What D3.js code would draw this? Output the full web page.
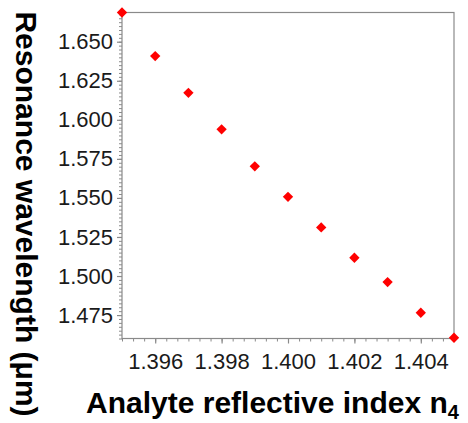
<!DOCTYPE html>
<html>
<head>
<meta charset="utf-8">
<script src="https://cdn.jsdelivr.net/npm/d3@7"></script>
<style>
  html, body { margin: 0; padding: 0; background: #fff; }
  svg { display: block; }
</style>
</head>
<body>
<svg id="chart" width="468" height="423"></svg>
<script>
// Analyte refractive index vs. resonance wavelength
const indexValues = [1.395, 1.396, 1.397, 1.398, 1.399, 1.400, 1.401, 1.402, 1.403, 1.404, 1.405];
const wavelengths = [1.6687, 1.6408, 1.6173, 1.5939, 1.5702, 1.5507, 1.5311, 1.5117, 1.4961, 1.4765, 1.4605];
const xTickValues = [1.396, 1.398, 1.400, 1.402, 1.404];
const yTickValues = [1.475, 1.500, 1.525, 1.550, 1.575, 1.600, 1.625, 1.650];

const W = 468, H = 423;
const margin = { left: 122, right: 14, top: 12.5, bottom: 84.5 };
const svg = d3.select("#chart");

const x = d3.scaleLinear().domain([1.395, 1.405]).range([margin.left, W - margin.right]);
const y = d3.scaleLinear().domain([1.4600, 1.6687]).range([H - margin.bottom, margin.top]);

const axisColor = "#8a8a8a";
const labelColor = "#1a1a1a";

// frame
svg.append("rect")
  .attr("x", x.range()[0]).attr("y", y.range()[1])
  .attr("width", x.range()[1] - x.range()[0])
  .attr("height", y.range()[0] - y.range()[1])
  .attr("fill", "none").attr("stroke", axisColor).attr("stroke-width", 1.2);

// minor ticks
const xMinor = d3.range(0, 31).map(i => 1.395 + i * (0.002 / 6)).filter(v => v <= 1.4051);
const yMinor = d3.range(0, 90).map(i => 1.4500 + i * 0.0025).filter(v => v >= 1.4600 && v <= 1.6687);

svg.append("g")
  .attr("transform", `translate(0,${y.range()[0]})`)
  .call(d3.axisBottom(x).tickValues(xMinor).tickSize(3).tickFormat(""))
  .call(g => g.select(".domain").remove())
  .call(g => g.selectAll("line").attr("stroke", axisColor));

svg.append("g")
  .attr("transform", `translate(${x.range()[0]},0)`)
  .call(d3.axisLeft(y).tickValues(yMinor).tickSize(3).tickFormat(""))
  .call(g => g.select(".domain").remove())
  .call(g => g.selectAll("line").attr("stroke", axisColor));

// major ticks with labels
const xAxis = svg.append("g")
  .attr("transform", `translate(0,${y.range()[0]})`)
  .call(d3.axisBottom(x).tickValues(xTickValues).tickSize(5).tickPadding(10).tickFormat(d3.format(".3f")));
xAxis.select(".domain").remove();
xAxis.selectAll("line").attr("stroke", axisColor).attr("stroke-width", 1.2);
xAxis.selectAll("text")
  .attr("fill", labelColor)
  .style("font-family", "Liberation Sans, Arial, sans-serif")
  .style("font-size", "22px");

const yAxis = svg.append("g")
  .attr("transform", `translate(${x.range()[0]},0)`)
  .call(d3.axisLeft(y).tickValues(yTickValues).tickSize(5).tickPadding(4).tickFormat(d3.format(".3f")));
yAxis.select(".domain").remove();
yAxis.selectAll("line").attr("stroke", axisColor).attr("stroke-width", 1.2);
yAxis.selectAll("text")
  .attr("fill", labelColor)
  .style("font-family", "Liberation Sans, Arial, sans-serif")
  .style("font-size", "22px");

// data markers
const diamond = d3.symbol().type(d3.symbolDiamond2).size(68);
svg.append("g")
  .selectAll("path")
  .data(indexValues.map((v, i) => [v, wavelengths[i]]))
  .join("path")
  .attr("transform", d => `translate(${x(d[0])},${y(d[1])})`)
  .attr("d", diamond)
  .attr("fill", "#ff0000");

// axis titles
const xTitle = svg.append("text")
  .attr("x", 86).attr("y", 413)
  .style("font-family", "Liberation Sans, Arial, sans-serif")
  .style("font-size", "30px")
  .style("font-weight", "bold")
  .attr("fill", "#000");
xTitle.append("tspan").text("Analyte reflective index n");
xTitle.append("tspan").attr("dy", 6).style("font-size", "20px").text("4");

svg.append("text")
  .attr("transform", "translate(16,214) rotate(90)")
  .attr("text-anchor", "middle")
  .style("font-family", "Liberation Sans, Arial, sans-serif")
  .style("font-size", "30px")
  .style("font-weight", "bold")
  .attr("fill", "#000")
  .text("Resonance wavelength (μm)");
</script>
</body>
</html>
